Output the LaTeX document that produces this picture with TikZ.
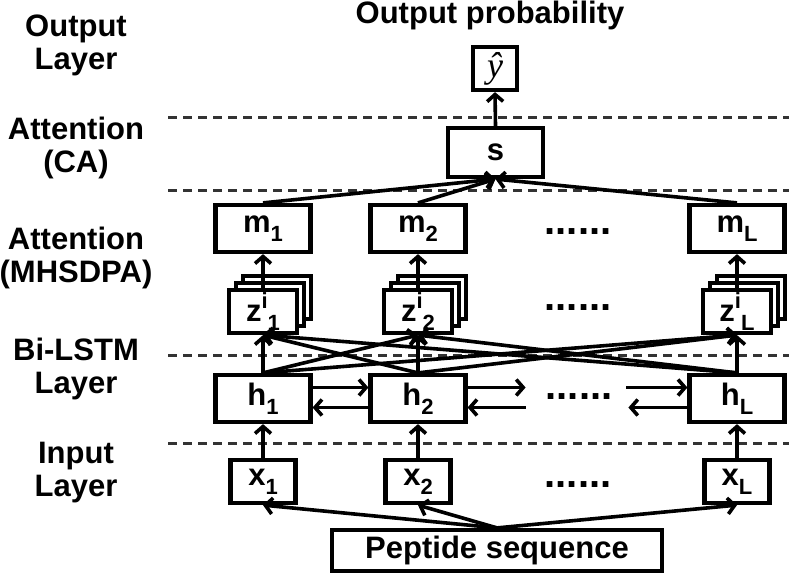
\documentclass[tikz,border=0pt]{standalone}
\usepackage{fontspec}
\setmainfont{Liberation Sans}
\newfontfamily\yfont{Liberation Serif}
\usepackage{tikz}
\usetikzlibrary{arrows.meta}

\newcommand{\subtxt}[1]{\raisebox{-0.3em}{\fontsize{22}{22}\selectfont #1}}
\newcommand{\suptxt}[1]{\raisebox{0.42em}{\fontsize{22}{22}\selectfont #1}}

\begin{document}
\begin{tikzpicture}[x=1pt, y=-1pt, line width=3.6pt,
  font=\fontsize{31}{33}\selectfont\bfseries,
  >={Straight Barb[length=7pt,width=16pt]},
  box/.style={draw, line width=4.2pt, fill=white, inner sep=0pt, minimum width=95pt, minimum height=47pt},
  zbox/.style={box, minimum width=68pt, minimum height=43pt},
  xbox/.style={box, minimum width=65pt, minimum height=43pt},
  layer/.style={align=center},
  dots/.style={font=\fontsize{40}{40}\selectfont\bfseries, inner sep=0pt},
  sep/.style={dashed, dash pattern=on 9pt off 6pt, line width=3pt, black!80}]

\useasboundingbox (0,0) rectangle (789,573);

\def\colA{263}
\def\colB{418}
\def\colL{737}

% Layer names
\node[layer] (outlab) at (76,45) {Output\\Layer};
\node[layer] (calab) at (76,148) {Attention\\(CA)};
\node[layer] (mhlab) at (76,258) {Attention\\(MHSDPA)};
\node[layer] (bilab) at (76,369) {Bi-LSTM\\Layer};
\node[layer] (inlab) at (76,473) {Input\\Layer};

% Separators
\draw[sep] (168,117) -- (789,117);
\draw[sep] (168,190) -- (789,190);
\draw[sep] (168,355) -- (789,355);
\draw[sep] (168,443) -- (789,443);

% Output
\node (title) at (490,15) {Output probability};
\node[box, minimum width=44pt, minimum height=43pt] (yhat) at (495,68.5) {\yfont\mdseries\itshape\fontsize{36}{36}\selectfont ŷ};

% CA
\node[box, minimum height=49pt] (s) at (495.5,152.5) {s};

% MHSDPA
\node[box] (m1) at (\colA,228.5) {m\subtxt{1}};
\node[box] (m2) at (\colB,228.5) {m\subtxt{2}};
\node[box] (mL) at (\colL,228.5) {m\subtxt{L}};
\node[dots] (mdots) at (578,232) {......};

\node[zbox] (z1c) at (\colA+14,297.5) {};
\node[zbox] (z1b) at (\colA+7,304.5) {};
\node[zbox] (z1) at (\colA,311.5) {z\suptxt{i}\subtxt{1}};
\node[zbox] (z2c) at (\colB+14,297.5) {};
\node[zbox] (z2b) at (\colB+7,304.5) {};
\node[zbox] (z2) at (\colB,311.5) {z\suptxt{i}\subtxt{2}};
\node[zbox] (zLc) at (\colL+14,297.5) {};
\node[zbox] (zLb) at (\colL+7,304.5) {};
\node[zbox] (zL) at (\colL,311.5) {z\suptxt{i}\subtxt{L}};
\node[dots] (zdots) at (578,308) {......};

% Bi-LSTM
\node[box] (h1) at (\colA,398.5) {h\subtxt{1}};
\node[box] (h2) at (\colB,398.5) {h\subtxt{2}};
\node[box] (hL) at (\colL,398.5) {h\subtxt{L}};
\node[dots] (hdots) at (579,397) {......};

% Input
\node[xbox] (x1) at (\colA,481.5) {x\subtxt{1}};
\node[xbox] (x2) at (\colB,481.5) {x\subtxt{2}};
\node[xbox] (xL) at (\colL,481.5) {x\subtxt{L}};
\node[dots] (xdots) at (578,485) {......};

\node[box, minimum width=330pt, minimum height=41pt] (pep) at (497,550.5) {Peptide sequence};

% Arrows
\draw[->] (pep.north) -- (x1.south);
\draw[->] (pep.north) -- (x2.south);
\draw[->] (pep.north) -- (xL.south);

\draw[->] (x1.north) -- (h1.south);
\draw[->] (x2.north) -- (h2.south);
\draw[->] (xL.north) -- (hL.south);

% forward / backward
\coordinate (h2up) at ([xshift=58pt,yshift=11pt]h2.east);
\coordinate (h2dn) at ([xshift=58pt,yshift=-9pt]h2.east);
\coordinate (hLup) at ([xshift=-61pt,yshift=11pt]hL.west);
\coordinate (hLdn) at ([xshift=-59pt,yshift=-9pt]hL.west);
\draw[->] ([yshift=11pt]h1.east) -- ([yshift=11pt]h2.west);
\draw[->] ([yshift=-9pt]h2.west) -- ([yshift=-9pt]h1.east);
\draw[->] ([yshift=11pt]h2.east) -- (h2up);
\draw[->] (h2dn) -- ([yshift=-9pt]h2.east);
\draw[->] (hLup) -- ([yshift=11pt]hL.west);
\draw[->] ([yshift=-9pt]hL.west) -- (hLdn);

\foreach \a in {h1,h2,hL}
  \foreach \b in {z1,z2,zL}
    \draw[->] (\a.north) -- (\b.south);

\draw[->] (z1.north) -- (m1.south);
\draw[->] (z2.north) -- (m2.south);
\draw[->] (zL.north) -- (mL.south);

\draw[->] (m1.north) -- (s.south);
\draw[->] (m2.north) -- (s.south);
\draw[->] (mL.north) -- (s.south);

\draw[->] (s.north) -- (yhat.south);
\end{tikzpicture}
\end{document}
